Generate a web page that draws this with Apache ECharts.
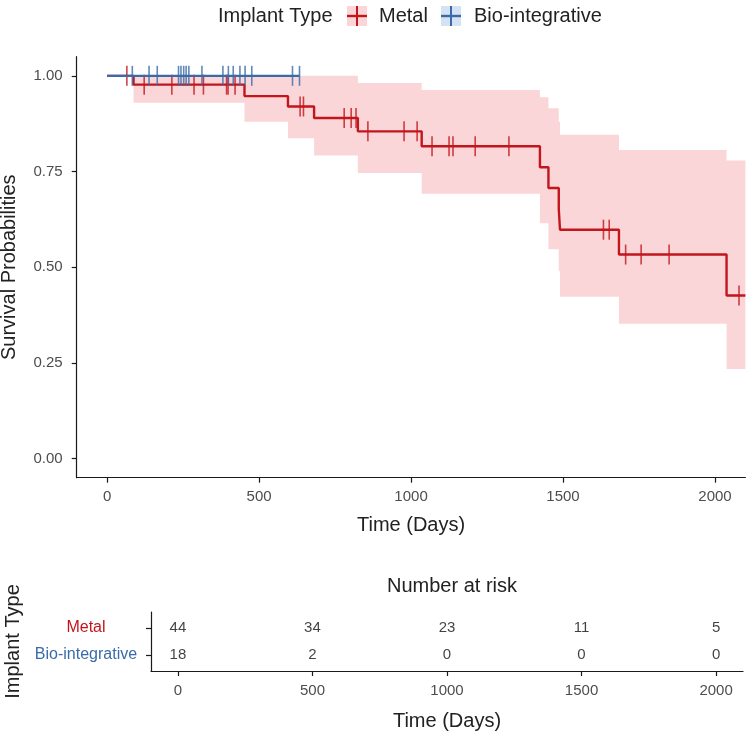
<!DOCTYPE html>
<html>
<head>
<meta charset="utf-8">
<script src="https://cdn.jsdelivr.net/npm/echarts@6/dist/echarts.min.js"></script>
<style>
html,body{margin:0;padding:0;background:#fff;}
#c{width:747px;height:736px;}
</style>
</head>
<body>
<div id="c"></div>
<script>
// ---- Data ----
const metalEventTimes = [0, 87, 452, 595, 681, 825, 1035, 1424, 1452, 1486, 1490, 1684, 2038, 2100];
const metalSurv       = [1, 0.977, 0.947, 0.920, 0.890, 0.855, 0.816, 0.761, 0.707, 0.652, 0.598, 0.533, 0.426, 0.426];
const bandTimes = [87, 452, 595, 681, 825, 1035, 1424, 1452, 1486, 1490, 1684, 2038, 2100];
const bandLower = [0.930, 0.880, 0.837, 0.792, 0.746, 0.692, 0.615, 0.547, 0.490, 0.423, 0.352, 0.234, 0.234];
const bandUpper = [1.000, 1.000, 1.000, 1.000, 0.981, 0.963, 0.944, 0.915, 0.880, 0.846, 0.806, 0.779, 0.779];
const metalCensorTimes = [65, 122, 213, 286, 317, 393, 398, 421, 635, 646, 780, 803, 819, 858, 977, 1020, 1069, 1125, 1138, 1211, 1322, 1633, 1652, 1706, 1757, 1849, 2079];
const bioEventTimes = [0, 633];
const bioSurv       = [1, 1];
const bioCensorTimes = [83, 138, 165, 235, 243, 252, 260, 269, 312, 381, 399, 415, 437, 454, 476, 610, 633];
const timeTicks = [0, 500, 1000, 1500, 2000];
const survTicks = [0, 0.25, 0.5, 0.75, 1];
const riskTimes = [0, 500, 1000, 1500, 2000];
const metalRisk = [44, 34, 23, 11, 5];
const bioRisk   = [18, 2, 0, 0, 0];
const groupNames = ['Metal', 'Bio-integrative'];

const RED = '#C2151C', BLUE = '#3A6BA8';
const BAND = 'rgba(240, 120, 125, 0.30)';
const FONT = 'Liberation Sans';

function survAt(times, surv, t) {
  let s = surv[0];
  for (let i = 0; i < times.length; i++) { if (times[i] <= t) s = surv[i]; }
  return s;
}

const chart = echarts.init(document.getElementById('c'), null, {renderer: 'canvas'});

const metalLine = metalEventTimes.map((t, i) => [t, metalSurv[i]]);
const bioLine = bioEventTimes.map((t, i) => [t, bioSurv[i]]);
const bandData = bandTimes.map((t, i) => [t, bandLower[i], bandUpper[i]]);
const metalCens = metalCensorTimes.map(t => [t, survAt(metalEventTimes, metalSurv, t)]);
const bioCens = bioCensorTimes.map(t => [t, survAt(bioEventTimes, bioSurv, t)]);

const riskData = [];
riskTimes.forEach((t, i) => {
  riskData.push([t, 2, String(metalRisk[i])]);
  riskData.push([t, 1, String(bioRisk[i])]);
});

const axisLineStyle = {color: '#1a1a1a', width: 1.2};
const plainNum = v => String(v);

function renderBand(params, api) {
  if (params.dataIndex !== 0) return null;
  const upper = [], lower = [];
  for (let i = 0; i < bandData.length - 1; i++) {
    const t0 = bandData[i][0], t1 = bandData[i + 1][0];
    upper.push(api.coord([t0, bandData[i][2]]), api.coord([t1, bandData[i][2]]));
    lower.push(api.coord([t0, bandData[i][1]]), api.coord([t1, bandData[i][1]]));
  }
  const pts = upper.concat(lower.reverse());
  return {type: 'polygon', shape: {points: pts}, style: {fill: BAND}, silent: true};
}

const option = {
  animation: false,
  backgroundColor: '#fff',
  textStyle: {fontFamily: FONT},
  title: [{
    text: 'Number at risk',
    left: 447, top: 571, textAlign: 'center',
    textStyle: {fontFamily: FONT, fontSize: 20, fontWeight: 'normal', color: '#222'}
  }],
  grid: [
    {left: 76.7, right: 1.6, top: 56.7, bottom: 258.3, containLabel: false, outerBoundsMode: 'none'},
    {left: 151, right: 4, top: 612, bottom: 65, containLabel: false, outerBoundsMode: 'none'}
  ],
  xAxis: [
    {
      gridIndex: 0, type: 'value', min: -100, max: 2100,
      splitLine: {show: false},
      axisLine: {show: true, onZero: false, lineStyle: axisLineStyle},
      axisTick: {show: true, length: 5, customValues: timeTicks, lineStyle: axisLineStyle},
      axisLabel: {customValues: timeTicks, margin: 12, fontSize: 15, color: '#4d4d4d', fontFamily: FONT, formatter: plainNum},
      name: 'Time (Days)', nameLocation: 'middle', nameGap: 38,
      nameTextStyle: {fontSize: 20, color: '#222', fontFamily: FONT}
    },
    {
      gridIndex: 1, type: 'value', min: -100, max: 2100,
      splitLine: {show: false},
      axisLine: {show: true, onZero: false, lineStyle: axisLineStyle},
      axisTick: {show: true, length: 5, customValues: timeTicks, lineStyle: axisLineStyle},
      axisLabel: {customValues: timeTicks, margin: 12, fontSize: 15, color: '#4d4d4d', fontFamily: FONT, formatter: plainNum},
      name: 'Time (Days)', nameLocation: 'middle', nameGap: 40,
      nameTextStyle: {fontSize: 20, color: '#222', fontFamily: FONT}
    }
  ],
  yAxis: [
    {
      gridIndex: 0, type: 'value', min: -0.05, max: 1.05,
      splitLine: {show: false},
      axisLine: {show: true, onZero: false, lineStyle: axisLineStyle},
      axisTick: {show: true, length: 5, customValues: survTicks, lineStyle: axisLineStyle},
      axisLabel: {customValues: survTicks, margin: 14, fontSize: 15, color: '#4d4d4d', fontFamily: FONT,
        formatter: v => v.toFixed(2)},
      name: 'Survival Probabilities', nameLocation: 'middle', nameGap: 57,
      nameTextStyle: {fontSize: 20, color: '#222', fontFamily: FONT}
    },
    {
      gridIndex: 1, type: 'value', min: 0.4, max: 2.6,
      splitLine: {show: false},
      axisLine: {show: true, onZero: false, lineStyle: axisLineStyle},
      axisTick: {show: true, length: 5, customValues: [1, 2], lineStyle: axisLineStyle},
      axisLabel: {customValues: [1, 2], margin: 65, align: 'center', fontSize: 16, fontFamily: FONT,
        formatter: v => v === 2 ? '{m|' + groupNames[0] + '}' : '{b|' + groupNames[1] + '}',
        rich: {
          m: {color: RED, fontSize: 16, fontFamily: FONT, align: 'center'},
          b: {color: BLUE, fontSize: 16, fontFamily: FONT, align: 'center'}
        }
      },
      name: 'Implant Type', nameLocation: 'middle', nameGap: 128,
      nameTextStyle: {fontSize: 20, color: '#222', fontFamily: FONT}
    }
  ],
  series: [
    {
      name: 'Metal CI', type: 'custom', xAxisIndex: 0, yAxisIndex: 0,
      data: bandData, renderItem: renderBand, silent: true, z: 1
    },
    {
      name: groupNames[0], type: 'line', xAxisIndex: 0, yAxisIndex: 0, step: 'end',
      data: metalLine, symbol: 'none', lineStyle: {color: RED, width: 2.4}, z: 3
    },
    {
      name: groupNames[0] + ' censored', type: 'scatter', xAxisIndex: 0, yAxisIndex: 0,
      data: metalCens, symbol: 'rect', symbolSize: [1.6, 20],
      itemStyle: {color: RED}, z: 4
    },
    {
      name: groupNames[1], type: 'line', xAxisIndex: 0, yAxisIndex: 0, step: 'end',
      data: bioLine, symbol: 'none', lineStyle: {color: BLUE, width: 2.4}, z: 5
    },
    {
      name: groupNames[1] + ' censored', type: 'scatter', xAxisIndex: 0, yAxisIndex: 0,
      data: bioCens, symbol: 'rect', symbolSize: [1.6, 20],
      itemStyle: {color: BLUE}, z: 6
    },
    {
      name: 'risk', type: 'scatter', xAxisIndex: 1, yAxisIndex: 1,
      data: riskData, symbolSize: 1, itemStyle: {color: 'rgba(0,0,0,0)'},
      label: {show: true, position: 'inside', formatter: p => p.value[2],
        fontSize: 15, color: '#111', fontFamily: FONT},
      silent: true
    }
  ],
  graphic: [
    {type: 'text', left: 218, top: 6, style: {text: 'Implant Type', fontSize: 20, fontFamily: FONT, fill: '#222'}},
    {type: 'rect', shape: {x: 347, y: 6, width: 20, height: 20}, style: {fill: BAND}},
    {type: 'line', shape: {x1: 357, y1: 6, x2: 357, y2: 26}, style: {stroke: RED, lineWidth: 2}},
    {type: 'line', shape: {x1: 347, y1: 16, x2: 367, y2: 16}, style: {stroke: RED, lineWidth: 2.4}},
    {type: 'text', left: 379, top: 6, style: {text: groupNames[0], fontSize: 20, fontFamily: FONT, fill: '#222'}},
    {type: 'rect', shape: {x: 441, y: 6, width: 20, height: 20}, style: {fill: 'rgba(120, 160, 215, 0.30)'}},
    {type: 'line', shape: {x1: 451, y1: 6, x2: 451, y2: 26}, style: {stroke: BLUE, lineWidth: 2}},
    {type: 'line', shape: {x1: 441, y1: 16, x2: 461, y2: 16}, style: {stroke: BLUE, lineWidth: 2.4}},
    {type: 'text', left: 474, top: 6, style: {text: groupNames[1], fontSize: 20, fontFamily: FONT, fill: '#222'}}
  ]
};
chart.setOption(option);
</script>
</body>
</html>
